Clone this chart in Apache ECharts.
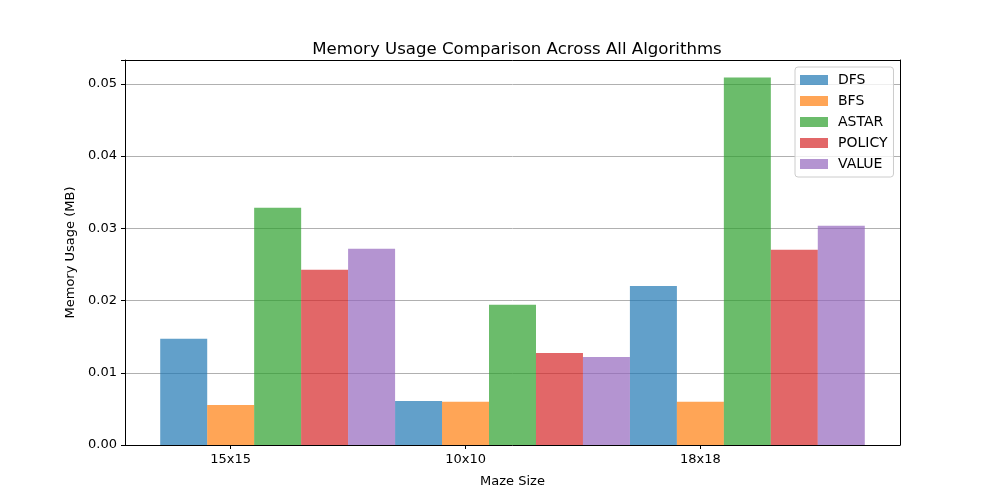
<!DOCTYPE html>
<html>
<head>
<meta charset="utf-8">
<script src="https://cdn.jsdelivr.net/npm/echarts@6/dist/echarts.min.js"></script>
<style>
  html, body { margin: 0; padding: 0; background: #fff; }
  #chart { width: 1000px; height: 500px; }
</style>
</head>
<body>
<div id="chart"></div>
<script>
var mazeSizes = ['15x15', '10x10', '18x18'];
var algorithms = ['DFS', 'BFS', 'ASTAR', 'POLICY', 'VALUE'];
var colors = ['#1f77b4', '#ff7f0e', '#2ca02c', '#d62728', '#9467bd'];

// memory usage in MB, one value per maze size
var dfsMem = [0.0147, 0.0061, 0.0220];
var bfsMem = [0.00555, 0.0060, 0.0060];
var astarMem = [0.03285, 0.0194, 0.05087];
var policyMem = [0.02426, 0.01275, 0.02703];
var valueMem = [0.02717, 0.0122, 0.03036];

var memByAlgo = [dfsMem, bfsMem, astarMem, policyMem, valueMem];
var barW = 0.2;

var myChart = echarts.init(document.getElementById('chart'));
var font = 'DejaVu Sans';

var series = algorithms.map(function(name, i) {
  return {
    name: name,
    type: 'bar',
    barWidth: 47,
    barGap: '-100%',
    itemStyle: { color: colors[i], opacity: 0.7 },
    data: memByAlgo[i].map(function(v, g) {
      return [g + (i - 1) * barW, v];
    })
  };
});

var option = {
  animation: false,
  textStyle: { fontFamily: font, color: '#000' },
  title: {
    text: 'Memory Usage Comparison Across All Algorithms',
    left: 512,
    textAlign: 'center',
    top: 36,
    textStyle: { fontFamily: font, fontSize: 16.6, fontWeight: 'normal', color: '#000' }
  },
  legend: {
    orient: 'vertical',
    left: 795,
    top: 67,
    data: algorithms,
    icon: 'rect',
    itemWidth: 28,
    itemHeight: 10,
    itemGap: 7,
    padding: [6, 6, 6, 5],
    backgroundColor: 'rgba(255,255,255,0.8)',
    borderColor: '#cccccc',
    borderWidth: 1,
    borderRadius: 3,
    textStyle: { fontFamily: font, fontSize: 14, color: '#000', padding: [0, 0, 0, 5] }
  },
  grid: { left: 125, right: 100, top: 60, bottom: 55 },
  xAxis: [{
    type: 'value',
    min: -0.45,
    max: 2.85,
    name: 'Maze Size',
    nameLocation: 'middle',
    nameGap: 30,
    nameTextStyle: { fontFamily: font, fontSize: 13, color: '#000' },
    axisLine: { show: true, onZero: false, lineStyle: { color: '#000', width: 1 } },
    axisTick: { show: true, length: 4, customValues: [0, 1, 2], lineStyle: { color: '#000' } },
    axisLabel: {
      customValues: [0, 1, 2],
      fontFamily: font, fontSize: 13, color: '#000', margin: 8,
      formatter: function(v) { return mazeSizes[Math.round(v)]; }
    },
    splitLine: { show: false }
  }, {
    type: 'value',
    position: 'top',
    min: -0.45,
    max: 2.85,
    axisLine: { show: true, onZero: false, lineStyle: { color: '#000', width: 1 } },
    axisTick: { show: false },
    axisLabel: { show: false },
    splitLine: { show: false }
  }],
  yAxis: [{
    type: 'value',
    position: 'left',
    min: 0,
    max: 0.0533,
    interval: 0.01,
    name: 'Memory Usage (MB)',
    nameLocation: 'middle',
    nameGap: 47,
    nameTextStyle: { fontFamily: font, fontSize: 13, color: '#000' },
    axisLine: { show: true, onZero: false, lineStyle: { color: '#000', width: 1 } },
    axisTick: { show: true, length: 4, lineStyle: { color: '#000' } },
    axisLabel: {
      fontFamily: font, fontSize: 13, color: '#000', margin: 8,
      formatter: function(v) {
        var k = Math.round(v * 100);
        return Math.abs(v * 100 - k) < 1e-6 ? (k / 100).toFixed(2) : '';
      }
    },
    splitLine: { show: true, lineStyle: { color: '#b0b0b0', width: 1 } }
  }, {
    type: 'value',
    position: 'right',
    min: 0,
    max: 0.0533,
    axisLine: { show: true, onZero: false, lineStyle: { color: '#000', width: 1 } },
    axisTick: { show: false },
    axisLabel: { show: false },
    splitLine: { show: false }
  }],
  series: series
};

myChart.setOption(option);
</script>
</body>
</html>
